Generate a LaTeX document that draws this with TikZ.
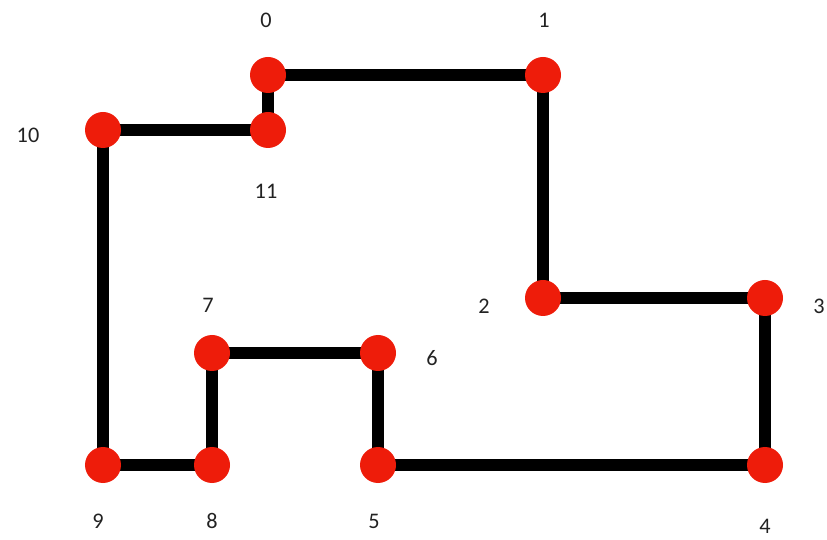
\documentclass[tikz,border=0pt]{standalone}
\usepackage{fontspec}
\setmainfont{Carlito}
\usetikzlibrary{positioning,backgrounds}
\definecolor{dotred}{HTML}{EE1C0A}
\definecolor{ink}{HTML}{000000}
\definecolor{labelgray}{HTML}{222222}
\tikzset{
  vertex/.style={circle,fill=dotred,draw=none,inner sep=0pt,minimum size=1.08cm},
  vlabel/.style={font=\fontsize{19}{22}\selectfont,text=labelgray,inner sep=0pt},
  edge/.style={draw=ink,line width=3.6mm}
}

\begin{document}
\begin{tikzpicture}[x=0.03cm,y=-0.03cm]
  \useasboundingbox (0,0) rectangle (827,540);
  % vertices
  \node[vertex] (v0) at (268,75) {};
  \node[vertex] (v1) at (543,75) {};
  \node[vertex] (v2) at (543,298) {};
  \node[vertex] (v3) at (765,298) {};
  \node[vertex] (v4) at (765,465) {};
  \node[vertex] (v5) at (378,465) {};
  \node[vertex] (v6) at (378,353) {};
  \node[vertex] (v7) at (212,353) {};
  \node[vertex] (v8) at (212,465) {};
  \node[vertex] (v9) at (103,465) {};
  \node[vertex] (v10) at (103,130) {};
  \node[vertex] (v11) at (268,130) {};
  % edges, behind the dots
  \begin{scope}[on background layer]
  \foreach \a/\b in {0/1,1/2,2/3,3/4,4/5,5/6,6/7,7/8,8/9,9/10,10/11,11/0}
    \draw[edge] (v\a.center) -- (v\b.center);
  \end{scope}
  % labels
  \node[vlabel] (l0) at (266,20) {0};
  \node[vlabel] (l1) at (544,20) {1};
  \node[vlabel] (l2) at (484,306) {2};
  \node[vlabel] (l3) at (819,306) {3};
  \node[vlabel] (l4) at (765,526) {4};
  \node[vlabel] (l5) at (374,521) {5};
  \node[vlabel] (l6) at (432,358) {6};
  \node[vlabel] (l7) at (208,305) {7};
  \node[vlabel] (l8) at (212,521) {8};
  \node[vlabel] (l9) at (98,521) {9};
  \node[vlabel] (l10) at (28,135) {10};
  \node[vlabel] (l11) at (266,191) {11};
\end{tikzpicture}
\end{document}
